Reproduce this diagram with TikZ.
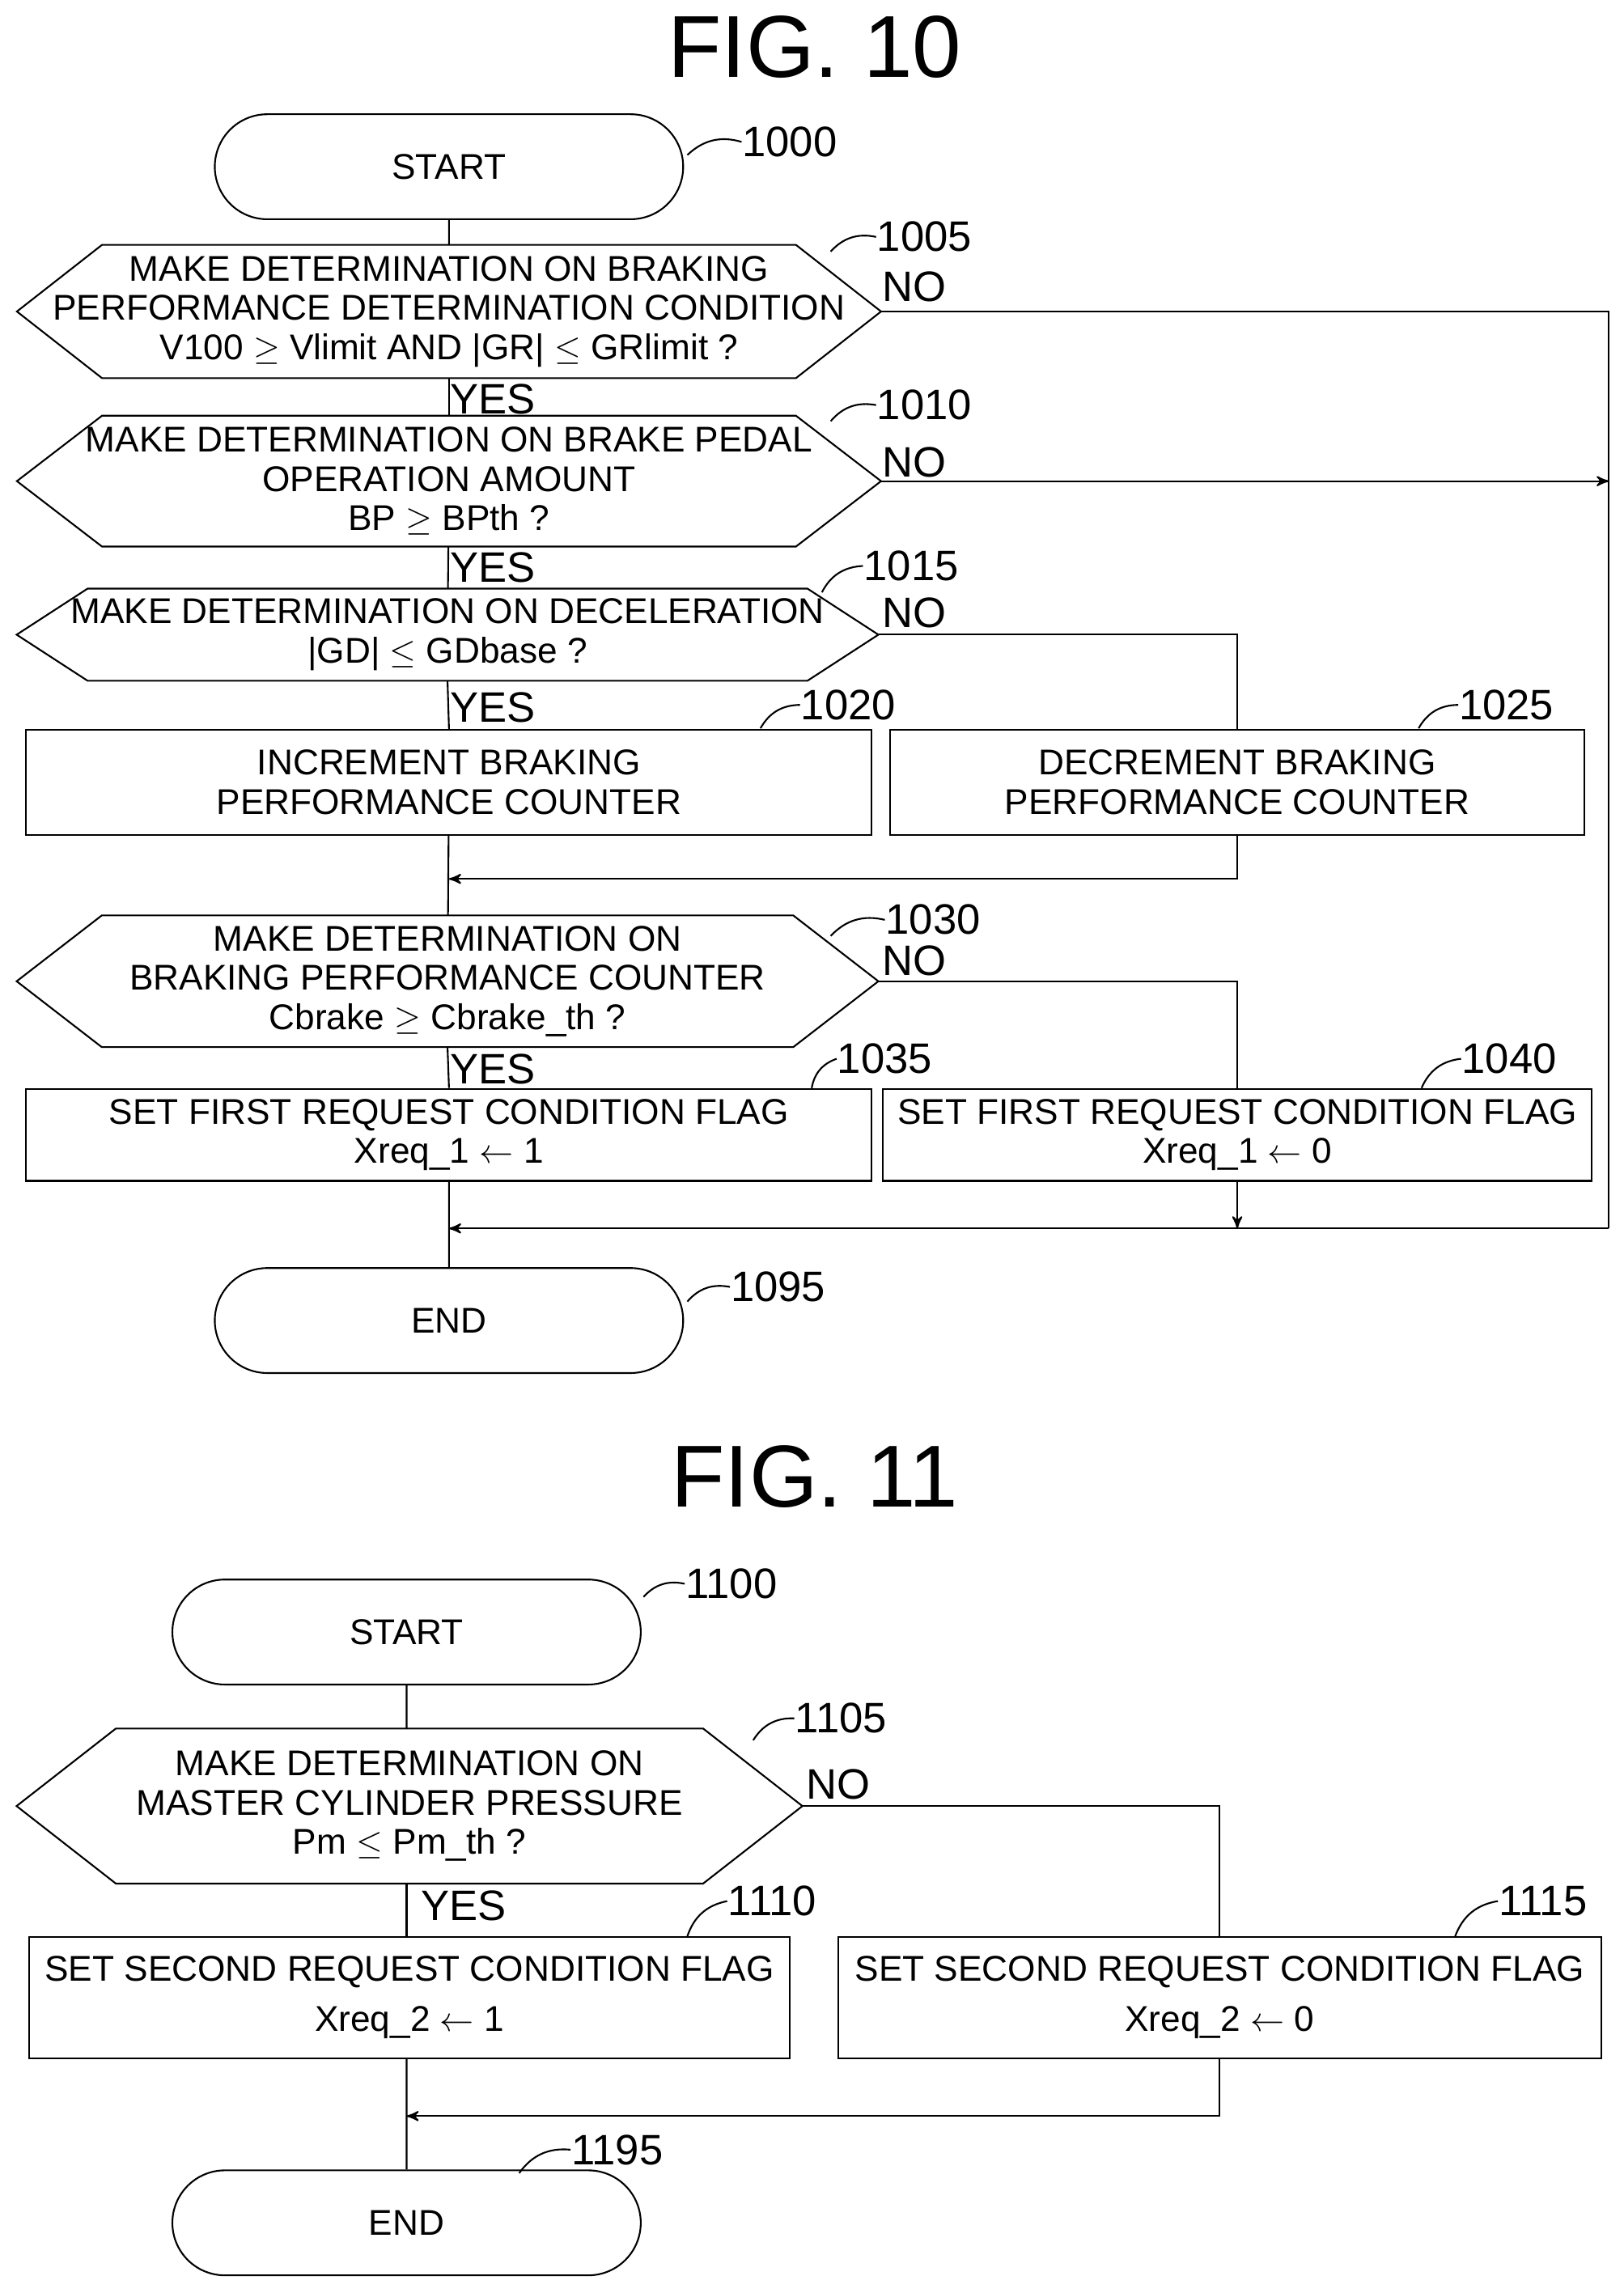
\documentclass[tikz,border=0pt]{standalone}
\usepackage{fontspec}
\setmainfont{Liberation Sans}
\usetikzlibrary{shapes.misc,arrows}
\newcommand\hexborder[2]{\draw (#1.west) -- ([xshift=#2]#1.north west) -- ([xshift=-#2]#1.north east)
	-- (#1.east) -- ([xshift=-#2]#1.south east) -- ([xshift=#2]#1.south west) -- cycle;}
\begin{document}
\begin{tikzpicture}[x=0.1811mm,y=-0.1811mm,line width=0.6pt]
		\tikzset{every node/.style={font=\fontsize{12.6}{13.8}\selectfont,align=center,inner sep=0pt}}
		\tikzset{term/.style = {shape=rounded rectangle,draw,minimum width=58mm,minimum height=13mm}}
		\tikzset{decide/.style = {shape=rectangle}}
		\tikzset{box/.style = {shape=rectangle,draw}}
		\tikzset{tag/.style = {font=\fontsize{15}{16}\selectfont}}
		\tikzset{edge/.style = {->,> = stealth'}}
		\useasboundingbox (0,0) rectangle (1110,1568);
		% FIG. 10
		\node[font=\fontsize{31}{32}\selectfont] (t10) at (557,32) {FIG. 10};
		\node[term] (s10) at (307,114) {START};
		\node[decide,minimum width=106.8mm,minimum height=16.3mm] (d05) at (307,213)
			{MAKE DETERMINATION ON BRAKING\\PERFORMANCE DETERMINATION CONDITION\\V100 $\geq$ Vlimit AND |GR| $\leq$ GRlimit ?};
		\node[decide,minimum width=106.8mm,minimum height=16mm] (d10) at (307,329)
			{MAKE DETERMINATION ON BRAKE PEDAL\\OPERATION AMOUNT\\BP $\geq$ BPth ?};
		\node[decide,minimum width=106.5mm,minimum height=11.2mm] (d15) at (306,434)
			{MAKE DETERMINATION ON DECELERATION\\|GD| $\leq$ GDbase ?};
		\node[box,minimum width=104.7mm,minimum height=13mm] (b20) at (307,535) {INCREMENT BRAKING\\PERFORMANCE COUNTER};
		\node[box,minimum width=86mm,minimum height=13mm] (b25) at (846,535) {DECREMENT BRAKING\\PERFORMANCE COUNTER};
		\node[decide,minimum width=106.5mm,minimum height=16.1mm] (d30) at (306,671)
			{MAKE DETERMINATION ON\\BRAKING PERFORMANCE COUNTER\\Cbrake $\geq$ Cbrake\_th ?};
		\node[box,minimum width=104.7mm,minimum height=11.4mm] (b35) at (307,776) {SET FIRST REQUEST CONDITION FLAG\\Xreq\_1 $\leftarrow$ 1};
		\node[box,minimum width=87.8mm,minimum height=11.4mm] (b40) at (846,776) {SET FIRST REQUEST CONDITION FLAG\\Xreq\_1 $\leftarrow$ 0};
		\node[term] (e10) at (307,903) {END};
		\hexborder{d05}{30}
		\hexborder{d10}{30}
		\hexborder{d15}{25}
		\hexborder{d30}{30}
		% step numbers
		\node[tag] (n1000) at (540,97) {1000};
		\node[tag] (n1005) at (632,162) {1005};
		\node[tag] (n1010) at (632,277) {1010};
		\node[tag] (n1015) at (623,387) {1015};
		\node[tag] (n1020) at (580,482) {1020};
		\node[tag] (n1025) at (1030,482) {1025};
		\node[tag] (n1030) at (638,629) {1030};
		\node[tag] (n1035) at (605,724) {1035};
		\node[tag] (n1040) at (1032,724) {1040};
		\node[tag] (n1095) at (532,880) {1095};
		\draw (n1000.west) to[bend right=30] (470,106);
		\draw (n1005.west) to[bend right=30] (568,172);
		\draw (n1010.west) to[bend right=30] (568,288);
		\draw (n1015.west) to[bend right=30] (562,405);
		\draw (n1020.west) to[bend right=30] (520,498);
		\draw (n1025.west) to[bend right=30] (970,498);
		\draw (n1030.west) to[bend right=30] (568,640);
		\draw (n1035.west) to[bend right=30] (555,744);
		\draw (n1040.west) to[bend right=30] (972,744);
		\draw (n1095.west) to[bend right=30] (470,890);
		% YES / NO
		\node[tag] at (625,196) {NO};
		\node[tag] at (625,316) {NO};
		\node[tag] at (625,419) {NO};
		\node[tag] at (625,657) {NO};
		\node[tag] at (337,273) {YES};
		\node[tag] at (337,388) {YES};
		\node[tag] at (337,484) {YES};
		\node[tag] at (337,731) {YES};
		% edges
		\coordinate (m1) at (307,601);
		\coordinate (m2) at (307,840);
		\coordinate (r1) at (1100,840);
		\coordinate (k40) at (846,840);
		\draw (s10) -- (d05);
		\draw (d05) -- (d10);
		\draw (d10) -- (d15);
		\draw (d15.south) -- (b20.north);
		\draw (b20) -- (d30);
		\draw (d30.south) -- (b35.north);
		\draw (b35) -- (e10);
		\draw (d05.east) -| (r1);
		\draw[edge] (r1) -- (m2);
		\draw[edge] (d10.east) -- (1100,329);
		\draw (d15.east) -| (b25.north);
		\draw[edge] (b25.south) |- (m1);
		\draw (d30.east) -| (b40.north);
		\draw[edge] (b40.south) -- (k40);
		% FIG. 11
		\node[font=\fontsize{31}{32}\selectfont] (t11) at (557,1010) {FIG. 11};
		\node[term] (s11) at (278,1116) {START};
		\node[decide,minimum width=97.1mm,minimum height=19mm] (d105) at (280,1235)
			{MAKE DETERMINATION ON\\MASTER CYLINDER PRESSURE\\Pm $\leq$ Pm\_th ?};
		\hexborder{d105}{35}
		\node[box,minimum width=94.2mm,minimum height=15mm] (b110) at (280,1366) {SET SECOND REQUEST CONDITION FLAG\\[4pt]Xreq\_2 $\leftarrow$ 1};
		\node[box,minimum width=94.5mm,minimum height=15mm] (b115) at (834,1366) {SET SECOND REQUEST CONDITION FLAG\\[4pt]Xreq\_2 $\leftarrow$ 0};
		\node[term] (e11) at (278,1520) {END};
		\node[tag] (n1100) at (500,1083) {1100};
		\node[tag] (n1105) at (575,1175) {1105};
		\node[tag] (n1110) at (528,1300) {1110};
		\node[tag] (n1115) at (1055,1300) {1115};
		\node[tag] (n1195) at (422,1470) {1195};
		\draw (n1100.west) to[bend right=30] (440,1092);
		\draw (n1105.west) to[bend right=30] (515,1190);
		\draw (n1110.west) to[bend right=30] (470,1324);
		\draw (n1115.west) to[bend right=30] (995,1324);
		\draw (n1195.west) to[bend right=30] (355,1486);
		\node[tag] at (573,1220) {NO};
		\node[tag] at (317,1303) {YES};
		\coordinate (m3) at (278,1447);
		\draw (s11) -- (d105.north -| s11);
		\draw (d105.south -| s11) -- (b110.north -| s11);
		\draw (b110.south -| s11) -- (e11);
		\draw (d105.east) -| (b115.north);
		\draw[edge] (b115.south) |- (m3);
\end{tikzpicture}
\end{document}
